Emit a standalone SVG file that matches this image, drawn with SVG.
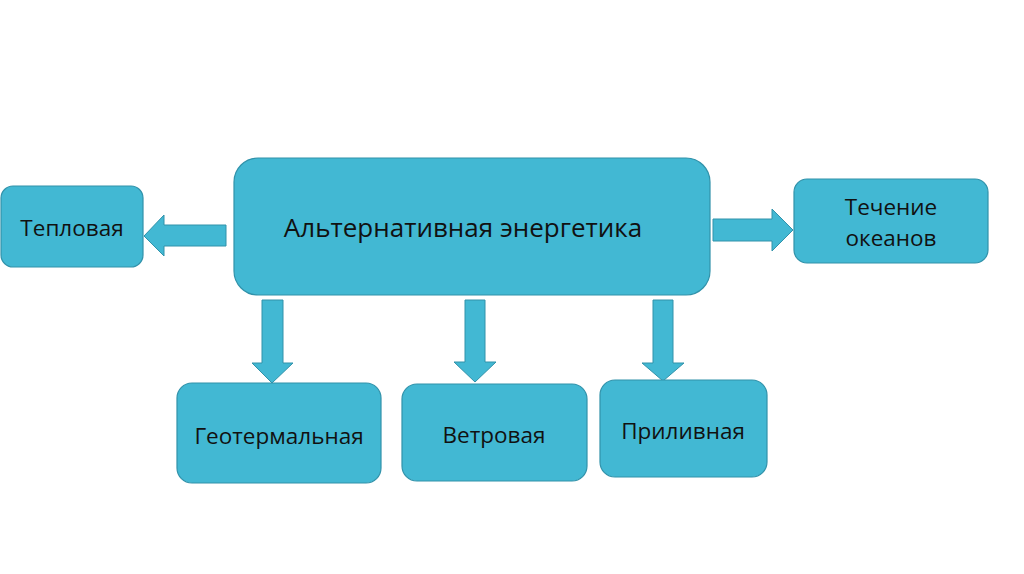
<svg xmlns="http://www.w3.org/2000/svg" width="1024" height="574" viewBox="0 0 1024 574">
<style>
.box{fill:#42B8D3;stroke:#3192AA;stroke-width:1.2}
.arr{fill:#42B8D3;stroke:#3192AA;stroke-width:1}
text{font-family:"Open Sans","Noto Sans","Liberation Sans",sans-serif;font-size:22.5px;fill:#111;text-anchor:middle}
.big{font-size:26px}
</style>
<rect width="1024" height="574" fill="#fff"/>
<g id="connectors">
<polygon class="arr" points="226,225 164,225 164,215 144,236 164,256 164,246 226,246"/>
<polygon class="arr" points="713,219 772,219 772,209 793,230 772,251 772,241 713,241"/>
<polygon class="arr" points="262,300 283,300 283,363 293,363 272,383 252,363 262,363"/>
<polygon class="arr" points="465,300 485,300 485,362 496,362 475,382 454,362 465,362"/>
<polygon class="arr" points="653,300 673,300 673,363 684,363 663,381 642,363 653,363"/>
</g>
<g id="main">
<rect class="box" x="234" y="158" width="476" height="137" rx="24"/>
<text class="big" x="463" y="237">Альтернативная энергетика</text>
</g>
<g id="teplovaya">
<rect class="box" x="1" y="186" width="142" height="81" rx="12"/>
<text x="72" y="236">Тепловая</text>
</g>
<g id="techenie">
<rect class="box" x="794" y="179" width="194" height="84" rx="13"/>
<text x="891" y="215">Течение</text>
<text x="891" y="246">океанов</text>
</g>
<g id="geotermalnaya">
<rect class="box" x="177" y="383" width="204" height="100" rx="15"/>
<text x="279" y="444">Геотермальная</text>
</g>
<g id="vetrovaya">
<rect class="box" x="402" y="384" width="185" height="97" rx="15"/>
<text x="494" y="443">Ветровая</text>
</g>
<g id="prilivnaya">
<rect class="box" x="600" y="380" width="167" height="97" rx="15"/>
<text x="683" y="439">Приливная</text>
</g>
</svg>
